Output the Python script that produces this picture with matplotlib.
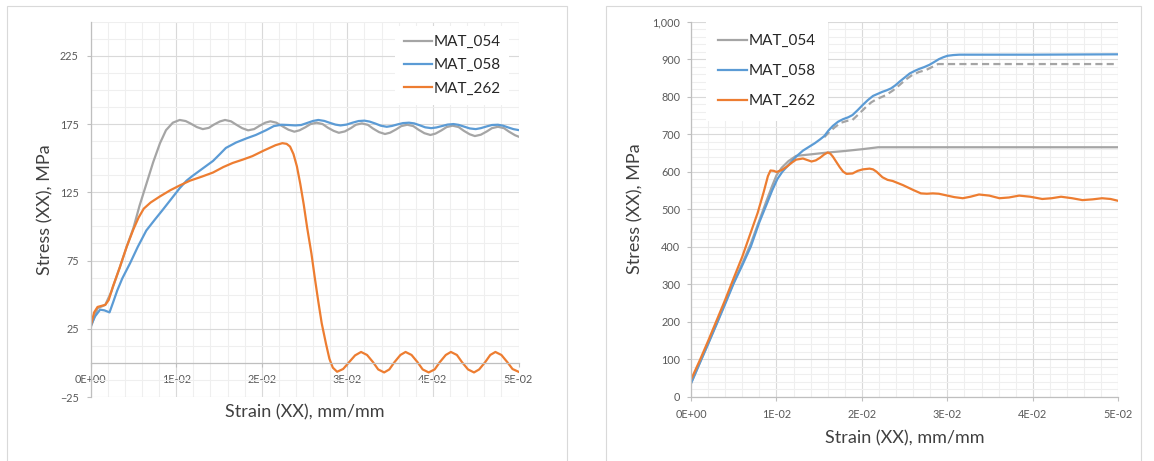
import matplotlib
matplotlib.use("Agg")
import matplotlib.pyplot as plt
from matplotlib.ticker import MultipleLocator, FixedLocator, FuncFormatter
from matplotlib.patches import Rectangle

plt.rcParams['font.family'] = ['Lato', 'DejaVu Sans']

GREY = '#A5A5A5'
BLUE = '#5B9BD5'
ORANGE = '#ED7D31'

# ---- left chart : stress-strain, three materials ----
strain_a_054 = [0, 0.0008, 0.0017, 0.0024, 0.0034, 0.0042, 0.005, 0.0057, 0.0065, 0.0073,
                0.0081, 0.0088, 0.0096, 0.0104, 0.0111, 0.0117, 0.0124, 0.0131, 0.0138, 0.0144,
                0.0151, 0.0157, 0.0164, 0.017, 0.0177, 0.0184, 0.0191, 0.0197, 0.0204, 0.021,
                0.0217, 0.0224, 0.0231, 0.0238, 0.0244, 0.0251, 0.0257, 0.0264, 0.0271, 0.0277,
                0.0284, 0.029, 0.0297, 0.0304, 0.031, 0.0317, 0.0324, 0.033, 0.0337, 0.0344,
                0.035, 0.0357, 0.0363, 0.037, 0.0377, 0.0383, 0.039, 0.0397, 0.0403, 0.041,
                0.0416, 0.0423, 0.043, 0.0436, 0.0443, 0.0449, 0.0456, 0.0463, 0.0469, 0.0476,
                0.0483, 0.0489, 0.0496, 0.05]
stress_a_054 = [26, 40, 42.5, 52, 70, 85, 99, 115, 131, 147,
                161, 170.5, 176, 178, 177.2, 175.3, 172.8, 171.3, 172.2, 174.6,
                176.9, 178, 177, 174.6, 172, 170.4, 171.3, 173.6, 176, 177,
                176, 173.4, 170.9, 169.4, 170.4, 172.7, 175, 176, 175, 172.4,
                170, 168.6, 169.6, 172, 174.5, 175.5, 174.4, 171.7, 169.1, 167.7,
                168.7, 171.1, 173.5, 174.5, 173.5, 170.9, 168.3, 167, 168, 170.4,
                172.8, 173.8, 172.8, 170.1, 167.5, 166.2, 167.2, 169.6, 172, 173,
                172, 169.4, 166.8, 165.8]

strain_a_058 = [0, 0.0005, 0.0011, 0.0016, 0.0022, 0.0026, 0.0031, 0.0037, 0.0046, 0.0055,
                0.0065, 0.0075, 0.0084, 0.0094, 0.0104, 0.0112, 0.0119, 0.0131, 0.0143, 0.0151,
                0.0158, 0.017, 0.0182, 0.0193, 0.0205, 0.0214, 0.0223, 0.0231, 0.0239, 0.0246,
                0.0253, 0.026, 0.0266, 0.0273, 0.0279, 0.0286, 0.0292, 0.0299, 0.0306, 0.0313,
                0.032, 0.0326, 0.0333, 0.0339, 0.0346, 0.0352, 0.0359, 0.0365, 0.0372, 0.0378,
                0.0385, 0.0391, 0.0398, 0.0404, 0.0411, 0.0417, 0.0424, 0.043, 0.0437, 0.0443,
                0.045, 0.0456, 0.0463, 0.0469, 0.0476, 0.0482, 0.0488, 0.0494, 0.05]
stress_a_058 = [27, 34, 39, 38.5, 37, 44, 53, 62, 73, 85,
                97, 105, 112, 120, 128, 133.5, 137, 142.5, 148, 153,
                157.5, 161.5, 164.5, 167, 170.5, 173.5, 174.5, 174.3, 174, 174.3,
                175.8, 177.3, 178, 177.3, 176, 174.6, 174, 174.6, 176, 177.2,
                177.5, 176.8, 175.3, 173.8, 173, 173.6, 174.8, 175.7, 176, 175.5,
                174, 172.6, 172, 172.5, 173.6, 174.6, 175, 174.4, 173, 171.8,
                171.3, 172, 173.3, 174.3, 174.5, 173.8, 172.5, 171.3, 170.6]

strain_a_262 = [0, 0.0004, 0.0008, 0.0017, 0.0021, 0.0026, 0.0034, 0.0042, 0.005, 0.0056,
                0.0062, 0.007, 0.0081, 0.0093, 0.0104, 0.0116, 0.013, 0.0143, 0.0155, 0.0166,
                0.0178, 0.0189, 0.0202, 0.0216, 0.0224, 0.0229, 0.0233, 0.0237, 0.0241, 0.0245,
                0.0249, 0.0253, 0.0258, 0.0262, 0.0266, 0.027, 0.0275, 0.0279, 0.0283, 0.0288,
                0.0295, 0.0302, 0.0309, 0.0316, 0.0323, 0.033, 0.0336, 0.0343, 0.0349, 0.0355,
                0.0362, 0.0368, 0.0375, 0.0382, 0.0388, 0.0395, 0.0402, 0.0408, 0.0415, 0.0421,
                0.0428, 0.0434, 0.0441, 0.0448, 0.0454, 0.0461, 0.0467, 0.0473, 0.048, 0.0487,
                0.0493, 0.05]
stress_a_262 = [27, 37, 41, 42.5, 46, 56, 70, 85, 98, 106.5,
                113, 117.5, 122, 126.5, 130, 133.5, 136.5, 139.5, 143.5, 146.5,
                149, 151.5, 155.5, 159.5, 161, 160.5, 158.5, 153, 144, 131,
                116, 99, 80, 62, 45, 29, 14, 3, -3.5, -6.5,
                -4.5, 0.5, 5.5, 8, 5.8, 0.5, -4.8, -7, -4.8, 0.5,
                5.8, 8, 5.8, 0.5, -4.8, -7, -4.8, 0.5, 5.8, 8,
                5.8, 0.5, -4.8, -7, -4.8, 0.5, 5.8, 8, 5.8, 0.5,
                -4.5, -6.5]

# ---- right chart ----
strain_b_054 = [0, 0.001, 0.002, 0.003, 0.004, 0.005, 0.006, 0.007, 0.008, 0.0088,
                0.0095, 0.01, 0.0106, 0.0114, 0.0123, 0.014, 0.016, 0.018, 0.0201, 0.0219, 0.05]
stress_b_054 = [35, 88, 141, 195, 250, 305, 355, 408, 470, 520,
                562, 590, 610, 628, 642, 646, 651, 655, 660, 665, 665]

# second MAT_054 run, shown dashed
strain_b_054b = [0.0156, 0.0162, 0.0168, 0.0175, 0.0182, 0.0189, 0.0197, 0.0205, 0.0211, 0.0217,
                 0.0223, 0.0228, 0.0236, 0.0244, 0.0251, 0.0259, 0.0267, 0.0275, 0.0282, 0.0289, 0.05]
stress_b_054b = [692, 706, 718, 730, 735, 738, 755, 773, 785, 793,
                 799, 804, 816, 831, 845, 858, 866, 871, 879, 887, 887]

strain_b_058 = [0, 0.001, 0.002, 0.003, 0.004, 0.005, 0.006, 0.007, 0.008, 0.0088,
                0.0095, 0.0101, 0.0107, 0.0115, 0.0123, 0.0131, 0.0138, 0.0145, 0.0151, 0.0156,
                0.0161, 0.0166, 0.0172, 0.0178, 0.0184, 0.0189, 0.0195, 0.0201, 0.0207, 0.0213,
                0.0219, 0.0224, 0.0229, 0.0234, 0.0239, 0.0244, 0.025, 0.0256, 0.0262, 0.0267,
                0.0273, 0.0279, 0.0285, 0.029, 0.0295, 0.03, 0.0307, 0.0314, 0.04, 0.05]
stress_b_058 = [35, 88, 140, 193, 247, 302, 350, 400, 465, 510,
                550, 580, 600, 620, 640, 656, 666, 676, 686, 695,
                710, 722, 733, 740, 745, 751, 764, 778, 791, 802,
                808, 813, 817, 822, 830, 840, 851, 862, 869, 874,
                879, 885, 893, 900, 905, 909, 911, 912, 912, 913]

strain_b_262 = [0, 0.001, 0.002, 0.003, 0.004, 0.005, 0.006, 0.007, 0.0078, 0.0085,
                0.009, 0.0093, 0.0097, 0.01, 0.0106, 0.0112, 0.0118, 0.0123, 0.0131, 0.0136,
                0.0141, 0.0146, 0.0151, 0.0156, 0.016, 0.0163, 0.0166, 0.017, 0.0174, 0.0178,
                0.0182, 0.0189, 0.0195, 0.0201, 0.0209, 0.0213, 0.0217, 0.0224, 0.023, 0.0236,
                0.0248, 0.026, 0.0269, 0.0276, 0.0283, 0.029, 0.0298, 0.0308, 0.0318, 0.0327,
                0.0337, 0.0349, 0.0361, 0.0372, 0.0384, 0.0397, 0.0411, 0.0422, 0.0433, 0.0446,
                0.0458, 0.047, 0.0481, 0.0491, 0.05]
stress_b_262 = [45, 95, 148, 203, 258, 316, 373, 438, 490, 545,
                588, 603, 602, 599, 604, 613, 624, 632, 635, 631,
                627, 630, 637, 646, 651, 648, 640, 626, 612, 600,
                594, 595, 602, 606, 608, 606, 600, 585, 578, 575,
                564, 551, 542, 541, 542, 541, 537, 532, 529, 533,
                539, 536, 529, 531, 536, 533, 527, 529, 533, 529,
                524, 526, 529, 527, 522]

labels = ['MAT_054', 'MAT_058', 'MAT_262']

W, H = 1154, 461
fig = plt.figure(figsize=(W / 100, H / 100), dpi=100)

# light frames around each chart
for x0, x1 in [(7, 567), (606, 1141)]:
    fig.add_artist(Rectangle((x0 / W, -0.1), (x1 - x0) / W, 1.1 - 6 / H,
                             transform=fig.transFigure, fill=False,
                             edgecolor='#D9D9D9', lw=0.8))

axL = fig.add_axes([90.7 / W, 1 - 397 / H, 427.8 / W, 375.3 / H])
axR = fig.add_axes([691 / W, 1 - 396.5 / H, 427.3 / W, 374.8 / H])


def style(ax):
    ax.set_axisbelow(True)
    ax.grid(which='major', color='#D9D9D9', lw=0.8)
    ax.grid(which='minor', color='#EFEFEF', lw=0.8)
    for s in ('top', 'right'):
        ax.spines[s].set_visible(False)
    for s in ('left', 'bottom'):
        ax.spines[s].set_color('#BFBFBF')
        ax.spines[s].set_linewidth(0.9)
    ax.tick_params(which='major', length=3, width=0.8, color='#BFBFBF',
                   labelsize=7.8, labelcolor='#595959')
    ax.tick_params(which='minor', length=0)
    ax.xaxis.set_major_locator(MultipleLocator(0.01))
    ax.xaxis.set_minor_locator(MultipleLocator(0.002))
    ax.xaxis.set_major_formatter(FuncFormatter(lambda v, p: format(v, '.0E')))
    ax.set_xlim(0, 0.05)
    ax.set_xlabel('Strain (XX), mm/mm', fontsize=13, color='#404040')
    ax.set_ylabel('Stress (XX), MPa', fontsize=13, color='#404040')
    ax.xaxis.label.set_va('center')
    ax.yaxis.label.set_va('center')


LW = 1.6

# left
style(axL)
axL.plot(strain_a_054, stress_a_054, color=GREY, lw=LW, label=labels[0])
axL.plot(strain_a_058, stress_a_058, color=BLUE, lw=LW, label=labels[1])
axL.plot(strain_a_262, stress_a_262, color=ORANGE, lw=LW, label=labels[2])
axL.set_ylim(-25, 250)
axL.yaxis.set_major_locator(FixedLocator(list(range(-25, 250, 50))))
axL.yaxis.set_minor_locator(MultipleLocator(12.5))
axL.spines['bottom'].set_position(('data', 0))
axL.tick_params(axis='x', pad=5)
axL.tick_params(axis='y', pad=5.5)
axL.xaxis.set_label_coords(0.5, -0.04)
axL.yaxis.set_label_coords(-0.107, 0.5)
axL.legend(loc='upper left', bbox_to_anchor=(395 / W, 1 - 26 / H),
           bbox_transform=fig.transFigure, fontsize=11, labelcolor='#262626',
           frameon=True, facecolor='white', edgecolor='none', framealpha=1,
           fancybox=False, borderpad=0.6, borderaxespad=0, handlelength=1.8,
           handletextpad=0.1, labelspacing=0.6)

# right
style(axR)
axR.plot(strain_b_054b, stress_b_054b, color=GREY, lw=LW, dashes=(3.2, 1.9))
axR.plot(strain_b_054, stress_b_054, color=GREY, lw=LW, label=labels[0])
axR.plot(strain_b_058, stress_b_058, color=BLUE, lw=LW, label=labels[1])
axR.plot(strain_b_262, stress_b_262, color=ORANGE, lw=LW, label=labels[2])
axR.set_ylim(0, 1000)
axR.yaxis.set_major_locator(MultipleLocator(100))
axR.yaxis.set_minor_locator(MultipleLocator(20))
axR.yaxis.set_major_formatter(FuncFormatter(lambda v, p: '{:,.0f}'.format(v)))
axR.tick_params(axis='x', pad=6)
axR.tick_params(axis='y', pad=4.6)
axR.xaxis.set_label_coords(0.5, -0.112)
axR.yaxis.set_label_coords(-0.131, 0.5)
handles, labs = axR.get_legend_handles_labels()
axR.legend(handles, labs, loc='upper left', bbox_to_anchor=(706 / W, 1 - 22 / H),
           bbox_transform=fig.transFigure, fontsize=11, labelcolor='#262626',
           frameon=True, facecolor='white', edgecolor='none', framealpha=1,
           fancybox=False, borderpad=0.8, borderaxespad=0, handlelength=1.9,
           handletextpad=0.1, labelspacing=1.05)

fig.savefig('out.png', dpi=100, facecolor='white')
